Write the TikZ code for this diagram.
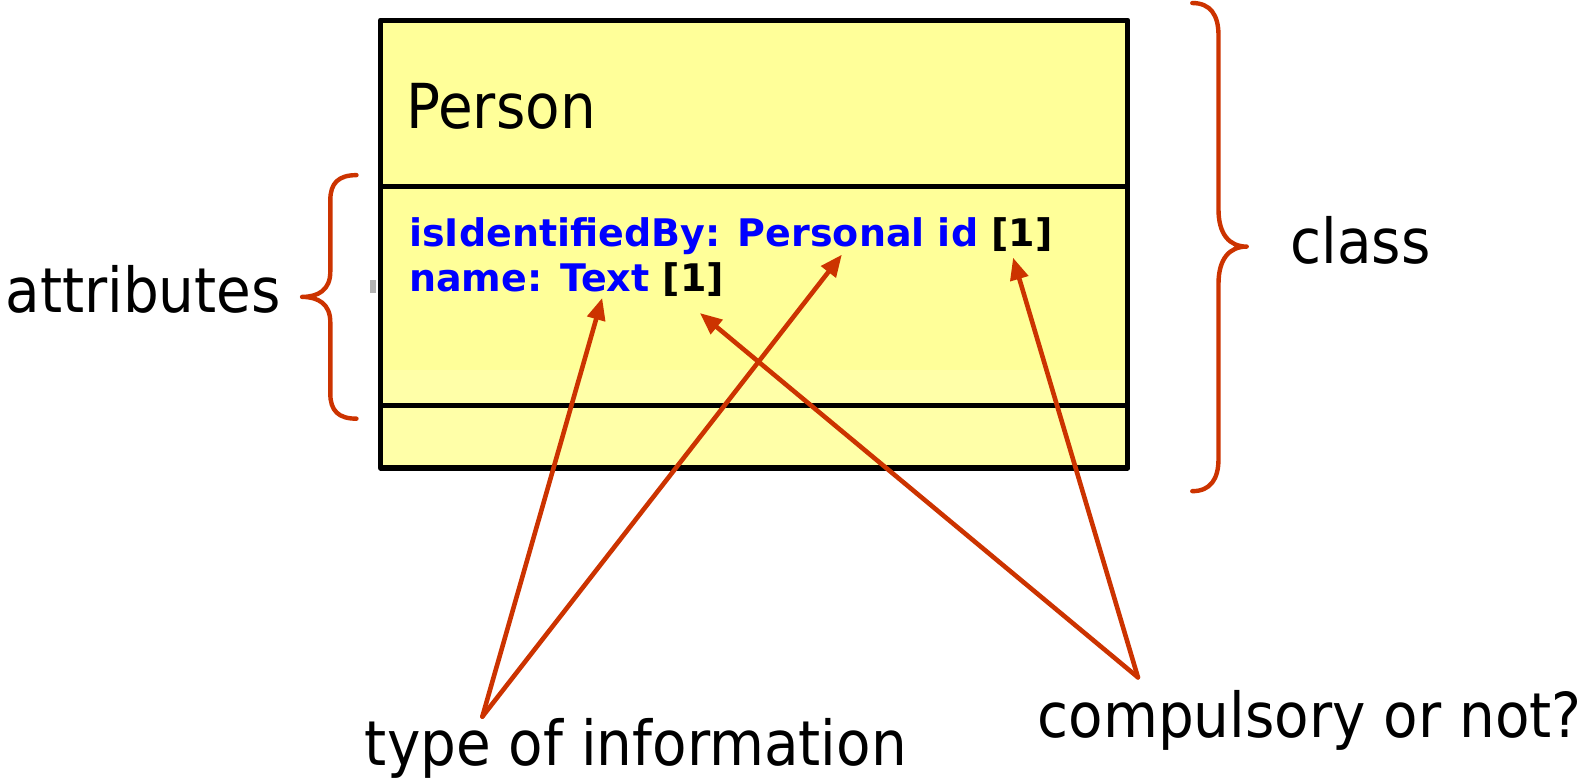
\documentclass[tikz,border=0pt]{standalone}
\usepackage{fontspec}
\setmainfont{DejaVu Sans}[FakeStretch=0.91]
\newfontfamily\attrfont{DejaVu Sans}[FakeStretch=1.0]
\usepackage{tikz}
\usetikzlibrary{arrows.meta}
\definecolor{umlfill}{RGB}{255,255,153}
\definecolor{umlpale}{RGB}{255,255,168}
\definecolor{brace}{RGB}{204,51,0}
\definecolor{attrblue}{RGB}{0,0,255}
\tikzset{
  lbl/.style={anchor=base west,inner sep=0pt,font=\fontsize{31}{36}\selectfont},
  attr/.style={anchor=base west,inner sep=0pt,font=\attrfont\fontsize{19}{23}\selectfont\bfseries},
  pointer/.style={brace,line width=2.3pt,-{Triangle[length=11pt,width=9pt]}},
  curly/.style={brace,line width=2.2pt},
  frame/.style={line width=2.6pt,line cap=butt}
}
\begin{document}
\begin{tikzpicture}[x=0.50351pt,y=-0.50323pt,line cap=round,line join=round]
    \useasboundingbox (0,0) rectangle (1568,774);
    % the class box
    \fill[umlfill] (378,20) rectangle (1120,465);
    \fill[umlpale] (378,368) rectangle (1120,465);
    \fill[gray!60] (367,278) rectangle (373,291);
    \draw[frame] (378,20) rectangle (1120,465);
    \draw[frame] (378,185) -- (1120,185);
    \draw[frame] (378,403) -- (1120,403);
    \node[lbl] (person) at (403,128) {Person};
    \node[attr,text=attrblue] (idline) at (406,245) {isIdentifiedBy: Personal id \textcolor{black}{[1]}};
    \node[attr,text=attrblue] (nameline) at (406,290) {name: Text \textcolor{black}{[1]}};
    % labels round it
    \node[lbl] (attributes) at (5,310) {attributes};
    \node[lbl] (class) at (1281,262) {class};
    \node[lbl] (typeinfo) at (362,761) {type of information};
    \node[lbl] (compulsory) at (1030,733) {compulsory or not?};
    % braces
    \draw[curly] (354,174) .. controls (336,174) and (328,182) .. (328,199) -- (328,270)
        .. controls (328,288) and (316,295) .. (300,295) .. controls (316,295) and (328,302) .. (328,320)
        -- (328,391) .. controls (328,408) and (336,416) .. (354,416);
    \draw[curly] (1184,3) .. controls (1202,3) and (1210,15) .. (1210,35) -- (1210,208)
        .. controls (1210,233) and (1221,245) .. (1238,245) .. controls (1221,245) and (1210,257) .. (1210,282)
        -- (1210,456) .. controls (1210,476) and (1202,488) .. (1184,488);
    % pointers
    \coordinate (typefrom) at (479,712);
    \coordinate (compfrom) at (1130,673);
    \coordinate (texttip) at (598,296);
    \coordinate (persontip) at (836,253);
    \coordinate (onetip) at (1006,256);
    \coordinate (twotip) at (695,311);
    \draw[pointer] (typefrom) -- (texttip);
    \draw[pointer] (typefrom) -- (persontip);
    \draw[pointer] (compfrom) -- (onetip);
    \draw[pointer] (compfrom) -- (twotip);
\end{tikzpicture}
\end{document}
